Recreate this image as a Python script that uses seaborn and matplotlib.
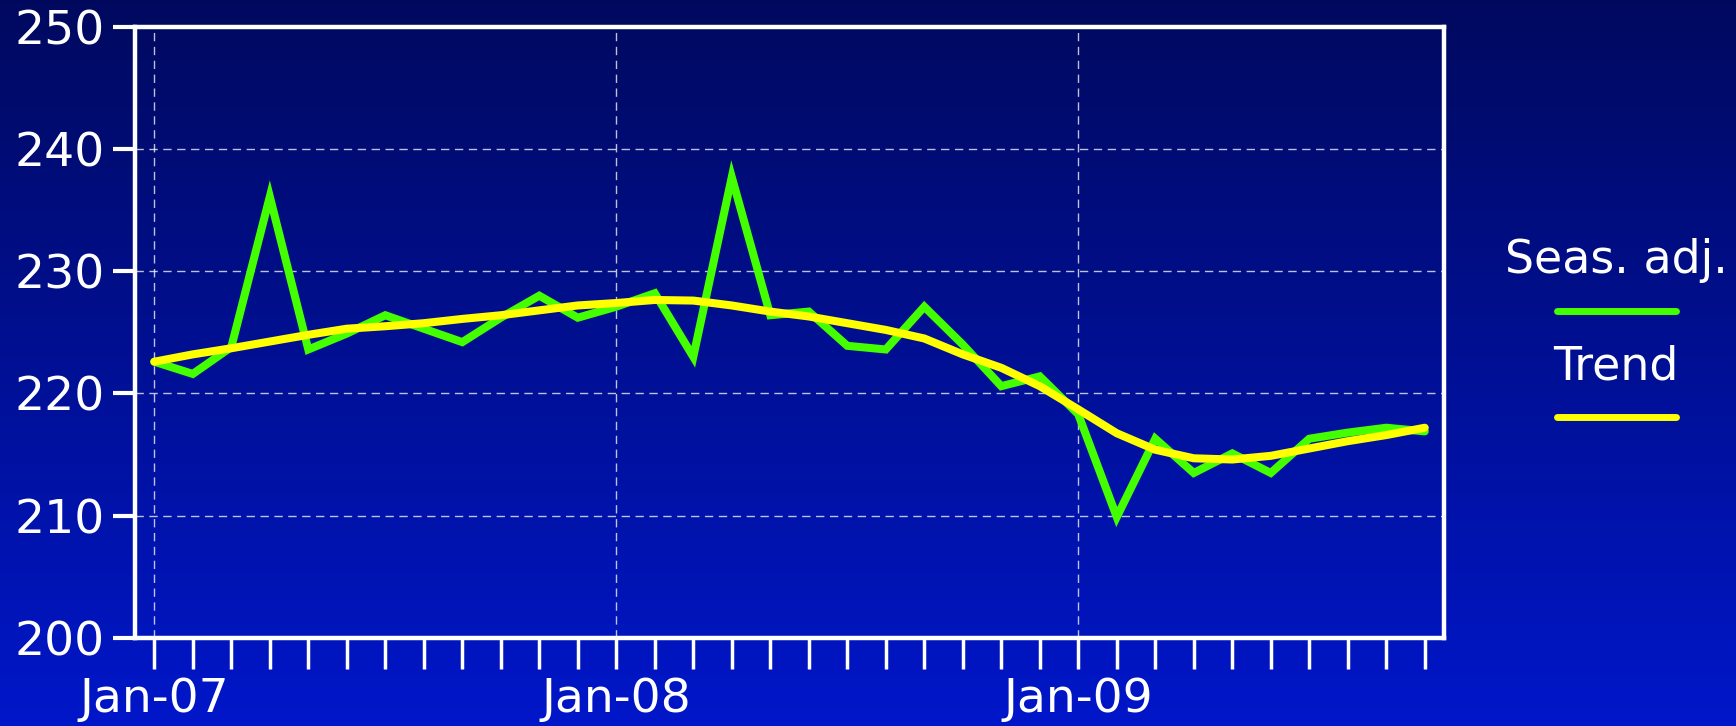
import matplotlib
matplotlib.use("Agg")
import matplotlib.pyplot as plt
import numpy as np
import pandas as pd
import seaborn as sns
from matplotlib.lines import Line2D

# monthly series, Jan-07 .. Oct-09
months = pd.date_range("2007-01-01", "2009-10-01", freq="MS")
seas_adj = [222.6, 221.6, 223.8, 236.1, 223.6, 224.9, 226.4, 225.3, 224.2, 226.2, 228.0, 226.2,
            227.1, 228.2, 223.0, 237.7, 226.4, 226.7, 223.9, 223.6, 227.1, 224.0, 220.6, 221.4,
            218.3, 209.9, 216.3, 213.5, 215.1, 213.5, 216.3, 216.8, 217.2, 216.9]
trend = [222.6, 223.2, 223.7, 224.25, 224.8, 225.3, 225.5, 225.75, 226.1, 226.4, 226.8, 227.2,
         227.4, 227.65, 227.6, 227.2, 226.7, 226.3, 225.75, 225.2, 224.5, 223.2, 222.1, 220.6,
         218.7, 216.75, 215.4, 214.7, 214.6, 214.9, 215.5, 216.1, 216.6, 217.2]
series_names = ["Seas. adj.", "Trend"]
series_colors = ["#44ff00", "#ffff00"]
y_ticks = [200, 210, 220, 230, 240, 250]

df = pd.DataFrame({
    "idx": np.tile(np.arange(len(months)), 2),
    "value": seas_adj + trend,
    "series": np.repeat(series_names, len(months)),
})

plt.rcParams["font.family"] = ["DejaVu Sans"]
fig = plt.figure(figsize=(17.36, 7.26), dpi=100)

# gradient background
bg = fig.add_axes([0, 0, 1, 1], zorder=-10)
grad = np.linspace(0, 1, 256)[:, None]
top = np.array([0.0, 0.035, 0.37])
bottom = np.array([0.0, 0.09, 0.79])
img = top + (bottom - top) * grad[:, :, None]
bg.imshow(np.repeat(img, 2, axis=1), aspect="auto", extent=[0, 1, 0, 1])
bg.axis("off")

ax = fig.add_axes([0.0778, 0.1212, 0.7540, 0.8420])
ax.set_facecolor("none")

sns.lineplot(data=df, x="idx", y="value", hue="series", palette=series_colors,
             linewidth=5.8, legend=False, ax=ax)
for ln in ax.lines:
    ln.set_solid_capstyle("round")
    ln.set_solid_joinstyle("miter")

ax.set_xlim(-0.5, len(months) - 0.5)
ax.set_ylim(200, 250)
ax.set_yticks(y_ticks)
ax.set_yticklabels([str(v) for v in y_ticks])
jan_idx = [i for i, m in enumerate(months) if m.month == 1]
ax.set_xticks(jan_idx)
ax.set_xticklabels([months[i].strftime("%b-%y") for i in jan_idx])
ax.set_xticks(np.arange(len(months)), minor=True)
ax.set_xlabel("")
ax.set_ylabel("")

for s in ax.spines.values():
    s.set_color("white")
    s.set_linewidth(3.2)

ax.tick_params(axis="y", colors="white", labelsize=34, length=16, width=3, pad=6)
ax.tick_params(axis="x", which="both", colors="white", labelsize=34, length=22, width=2.5, pad=6)

ax.grid(True, which="major", color="white", alpha=0.75, linewidth=1.0, linestyle=(0, (6, 4)))
ax.set_axisbelow(True)

# legend: label above swatch
for i, (name, col) in enumerate(zip(series_names, series_colors)):
    ty = 1 - (260 + 107 * i) / 726
    ly = 1 - (311 + 106 * i) / 726
    fig.text(1616 / 1736, ty, name, color="white", fontsize=33, ha="center", va="center")
    fig.add_artist(Line2D([1557 / 1736, 1676 / 1736], [ly, ly], color=col, linewidth=5,
                          solid_capstyle="round", transform=fig.transFigure))

fig.savefig("out.png", dpi=100)
